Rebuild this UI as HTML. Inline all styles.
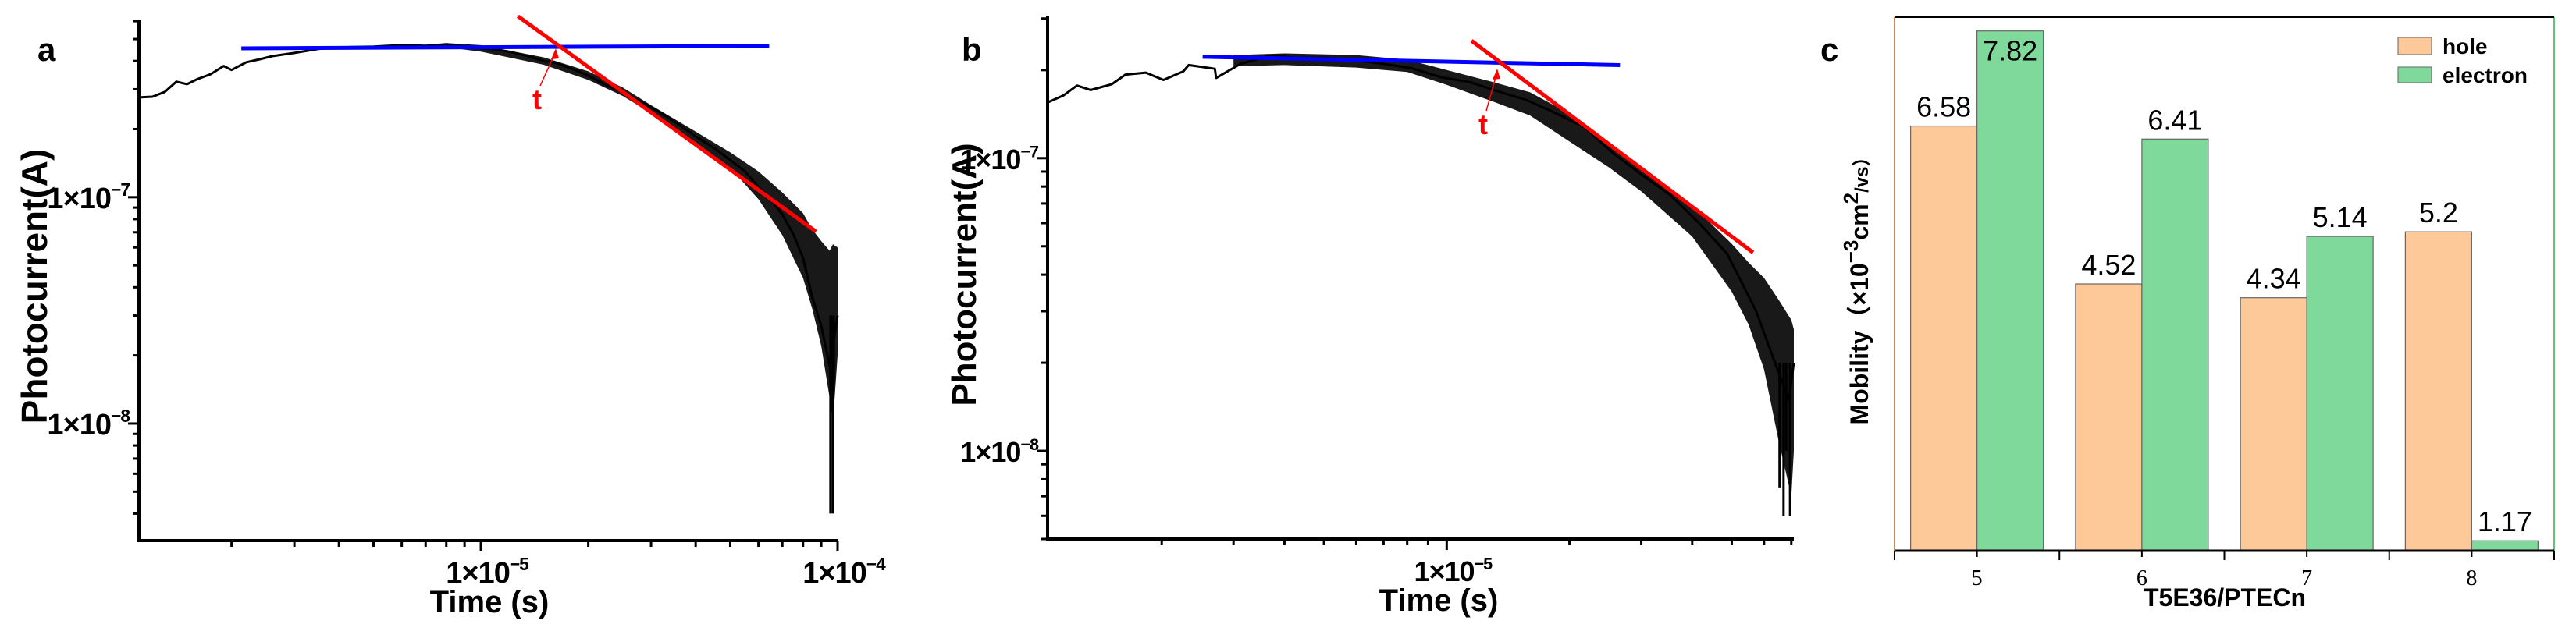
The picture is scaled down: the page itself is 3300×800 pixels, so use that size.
<!DOCTYPE html>
<html><head><meta charset="utf-8">
<style>
html,body{margin:0;padding:0;background:#fff;}
svg{display:block;font-family:"Liberation Sans",Arial,sans-serif;}
</style></head>
<body>
<svg id="fig" width="3300" height="800" viewBox="0 0 3300 800">
<g id="pa"></g>
<g id="pb"></g>
<g id="pc"></g>
</svg>
<script>
// ---------- Panel a data (time in µs, current in 1e-7 A) ----------
const aTime = [1.1,1.2,1.3,1.4,1.5,1.6,1.75,1.9,2.0,2.2,2.4,2.6,3.0,3.5,4,5,6,7,8,9,10,11,12,13,14,15,16,18,20,22,25,28,32,36,40,45,50,55,60,65,70,75,80,85,90,95,100];
const aCurrent = [2.76,2.78,2.92,3.24,3.16,3.32,3.5,3.8,3.65,3.95,4.07,4.2,4.34,4.52,4.6,4.63,4.7,4.67,4.74,4.63,4.55,4.5,4.4,4.27,4.14,4.0,3.95,3.7,3.45,3.18,2.92,2.65,2.36,2.09,1.86,1.65,1.46,1.3,1.11,0.98,0.84,0.69,0.54,0.36,0.27,0.18,0.3];
const aBandTime = [8,10,15,20,25,30,40,50,60,70,80,85,90,95,97,100];
const aBandHi = [4.8,4.7,4.15,3.6,3.05,2.55,1.95,1.58,1.3,1.05,0.85,0.72,0.64,0.58,0.62,0.6];
const aBandLo = [4.6,4.4,3.85,3.3,2.8,2.35,1.75,1.35,0.98,0.68,0.44,0.32,0.22,0.13,0.1,0.2];
const aSpikeTime = [95.5,96.2,97.0,97.6];
const aSpikeCurrent = [0.04,0.2,0.04,0.15];
const aBlue = {t:[2.13,64.3], i:[4.55,4.66]};
const aRed = {t:[12.7,87], i:[6.31,0.705]};
const aYTicks = ["1×10|−7","1×10|−8"];
const aXTicks = ["1×10|−5","1×10|−4"];

// ---------- Panel b data ----------
const bTime = [1.05,1.15,1.24,1.34,1.51,1.63,1.83,2.02,2.26,2.33,2.7,2.72,3.12,3.67,4.3,5.07,5.97,7.0,8.2,9.7,11.4,13.4,15.7,18.4,21.7,25.6,30,35.3,41.6,48.8,57.4,63,69,71];
const bCurrent = [1.55,1.64,1.77,1.71,1.79,1.93,1.96,1.85,1.98,2.08,2.02,1.88,2.1,2.24,2.2,2.2,2.16,2.1,2.03,1.89,1.82,1.69,1.58,1.43,1.28,1.04,0.88,0.75,0.6,0.47,0.3,0.21,0.15,0.2];
const bBandTime = [3,4,6,8,10,13,16,20,25,30,40,50,55,60,65,70,71];
const bBandHi = [2.25,2.28,2.25,2.17,2.0,1.82,1.68,1.42,1.13,0.94,0.69,0.51,0.44,0.39,0.33,0.28,0.26];
const bBandLo = [2.06,2.08,2.04,1.97,1.78,1.56,1.4,1.14,0.93,0.77,0.54,0.35,0.27,0.19,0.11,0.07,0.1];
const bSpikeTime = [65.5,67,68,69.5];
const bSpikeCurrent = [0.075,0.06,0.1,0.06];
const bBlue = {t:[2.52,26.6], i:[2.22,2.08]};
const bRed = {t:[11.5,56.4], i:[2.52,0.476]};
const bYTicks = ["1×10|−7","1×10|−8"];
const bXTicks = ["1×10|−5"];

// ---------- Panel c data ----------
const cCategories = ["5","6","7","8"];
const cHole = [6.58,4.52,4.34,5.2];
const cElectron = [7.82,6.41,5.14,1.17];
const cHoleLabels = ["6.58","4.52","4.34","5.2"];
const cElectronLabels = ["7.82","6.41","5.14","1.17"];

const NS="http://www.w3.org/2000/svg";
function mk(parent,tag,attrs,text){
  const e=document.createElementNS(NS,tag);
  for(const k in attrs) e.setAttribute(k,attrs[k]);
  if(text!==undefined) e.textContent=text;
  parent.appendChild(e); return e;
}
function sciLabel(g,x,y,str,size,anchor){
  const parts=str.split("|");
  const t=mk(g,"text",{x:x,y:y,"font-size":size,"font-weight":"bold","text-anchor":anchor,fill:"#000","letter-spacing":"-1"});
  mk(t,"tspan",{},parts[0]);
  mk(t,"tspan",{"font-size":size*0.6,dy:-size*0.42},parts[1]);
  return t;
}

function logPanel(g,cfg){
  const lx=v=>cfg.x0+(Math.log10(v)-Math.log10(cfg.tMin))/(Math.log10(cfg.tMax)-Math.log10(cfg.tMin))*(cfg.x1-cfg.x0);
  const ly=v=>cfg.yBot-(Math.log10(v)-Math.log10(cfg.iMin))/(Math.log10(cfg.iMax)-Math.log10(cfg.iMin))*(cfg.yBot-cfg.yTop);
  let pts=[];
  for(let k=0;k<cfg.bandT.length;k++) pts.push(lx(cfg.bandT[k]).toFixed(1)+","+ly(cfg.bandHi[k]).toFixed(1));
  for(let k=cfg.bandT.length-1;k>=0;k--) pts.push(lx(cfg.bandT[k]).toFixed(1)+","+ly(cfg.bandLo[k]).toFixed(1));
  const band=mk(g,"polygon",{points:pts.join(" "),fill:"#000","fill-opacity":"0.9"});
  
  
  let cp=cfg.time.map((t,k)=>lx(t).toFixed(1)+","+ly(cfg.cur[k]).toFixed(1)).join(" ");
  const curve=mk(g,"polyline",{points:cp,fill:"none",stroke:"#000","stroke-width":3,"stroke-linejoin":"round"});
  
  
  cfg.spT.forEach((t,k)=>{
    const s=mk(g,"line",{x1:lx(t),x2:lx(t),y1:ly(cfg.spHi),y2:ly(cfg.spI[k]),stroke:"#000","stroke-width":3});
    
    
  });
  const bl=mk(g,"line",{x1:lx(cfg.blue.t[0]),y1:ly(cfg.blue.i[0]),x2:lx(cfg.blue.t[1]),y2:ly(cfg.blue.i[1]),stroke:"#0000ff","stroke-width":5});
  
  
  const rl=mk(g,"line",{x1:lx(cfg.red.t[0]),y1:ly(cfg.red.i[0]),x2:lx(cfg.red.t[1]),y2:ly(cfg.red.i[1]),stroke:"#ff0000","stroke-width":5});
  
  
  const ax=cfg.tx, ay=cfg.ty, ix=cfg.ix, iy=cfg.iy;
  const arr=mk(g,"line",{x1:ax+4,y1:ay-30,x2:ix,y2:iy+6,stroke:"#ff0000","stroke-width":1.5});
  
  
  const ah=mk(g,"polygon",{points:`${ix},${iy+2} ${ix-6},${iy+16} ${ix+4},${iy+15}`,fill:"#ff0000"});
  
  
  const tl=mk(g,"text",{x:ax,y:ay,"font-size":36,"font-weight":"bold",fill:"#ff0000","text-anchor":"middle"},"t");
  
  
  const yax=mk(g,"line",{x1:cfg.x0,y1:cfg.yTop,x2:cfg.x0,y2:cfg.yBot+2,stroke:"#000","stroke-width":4});
  
  
  const xax=mk(g,"line",{x1:cfg.x0-2,y1:cfg.yBot,x2:cfg.x1,y2:cfg.yBot,stroke:"#000","stroke-width":4});
  
  
  for(let e=-3;e<=1;e++){
    for(let m=1;m<=9;m++){
      const v=m*Math.pow(10,e);
      if(v<cfg.iMin||v>cfg.iMax) continue;
      const y=ly(v), len=m===1?14:8;
      const tk=mk(g,"line",{x1:cfg.x0-len,x2:cfg.x0,y1:y,y2:y,stroke:"#000","stroke-width":3});
      
      
    }
  }
  cfg.yTickVals.forEach((v,k)=>{
    const t=sciLabel(g,cfg.x0-12,ly(v)+14,cfg.yTicks[k],cfg.tickSize,"end");
    
    
  });
  for(let e=0;e<=2;e++){
    for(let m=1;m<=9;m++){
      const v=m*Math.pow(10,e);
      if(v<cfg.tMin||v>cfg.tMax*1.001) continue;
      const x=lx(v), len=m===1?14:8;
      const tk=mk(g,"line",{x1:x,x2:x,y1:cfg.yBot,y2:cfg.yBot+len,stroke:"#000","stroke-width":3});
      
      
    }
  }
  cfg.xTickVals.forEach((v,k)=>{
    const t=sciLabel(g,lx(v)+8,cfg.yBot+54,cfg.xTicks[k],cfg.tickSize,"middle");
    
    
  });
  const xt=mk(g,"text",{x:cfg.xTitleX,y:cfg.yBot+92,"font-size":40,"font-weight":"bold","text-anchor":"middle"},"Time (s)");
  
  
  const yt=mk(g,"text",{x:0,y:0,"font-size":cfg.yTitleSize,"font-weight":"bold","text-anchor":"middle",transform:`translate(${cfg.yTitleX},${cfg.yTitleY}) rotate(-90)`},"Photocurrent(A)");
  
  
  const pl=mk(g,"text",{x:cfg.labX,y:cfg.labY,"font-size":42,"font-weight":"bold"},cfg.lab);
  
  
}

logPanel(document.getElementById("pa"),{
  x0:178,x1:1073,yTop:25,yBot:693,tMin:1.1,tMax:100,iMin:0.0304,iMax:6.1,
  time:aTime,cur:aCurrent,bandT:aBandTime,bandHi:aBandHi,bandLo:aBandLo,
  spT:aSpikeTime,spI:aSpikeCurrent,spHi:0.3,blue:aBlue,red:aRed,
  tx:688,ty:140,ix:712,iy:60,
  yTickVals:[1,0.1],yTicks:aYTicks,xTickVals:[10,100],xTicks:aXTicks,tickSize:38,
  xTitleX:627,yTitleX:60,yTitleY:367,yTitleSize:46,lab:"a",labX:48,labY:78
});
logPanel(document.getElementById("pb"),{
  x0:1342,x1:2298,yTop:20,yBot:691,tMin:1.05,tMax:71,iMin:0.05,iMax:3.07,
  time:bTime,cur:bCurrent,bandT:bBandTime,bandHi:bBandHi,bandLo:bBandLo,
  spT:bSpikeTime,spI:bSpikeCurrent,spHi:0.2,blue:bBlue,red:bRed,
  tx:1900,ty:172,ix:1918,iy:86,
  yTickVals:[1,0.1],yTicks:bYTicks,xTickVals:[10],xTicks:bXTicks,tickSize:36,
  xTitleX:1843,yTitleX:1250,yTitleY:352,yTitleSize:44,lab:"b",labX:1232,labY:78
});

// ---------- Panel c ----------
(function(){
  const g=document.getElementById("pc");
  const x0=2427,x1=3272,yTop=22,yBot=706,vMin=1.04,vMax=8.0;
  const cx=k=>x0+(x1-x0)*(k+0.5)/cCategories.length;
  const vy=v=>yBot-(v-vMin)/(vMax-vMin)*(yBot-yTop);
  const bw=85;
  const frameL=mk(g,"line",{x1:x0,y1:yTop,x2:x0,y2:yBot,stroke:"#d08a5a","stroke-width":2});
  
  
  const frameR=mk(g,"line",{x1:x1,y1:yTop,x2:x1,y2:yBot,stroke:"#5fc47d","stroke-width":2});
  
  
  const frameT=mk(g,"line",{x1:x0,y1:yTop,x2:x1,y2:yTop,stroke:"#000","stroke-width":2});
  
  
  cCategories.forEach((c,k)=>{
    const c0=cx(k);
    const hb=mk(g,"rect",{x:c0-bw,y:vy(cHole[k]),width:bw,height:yBot-vy(cHole[k]),fill:"#fdc998",stroke:"#666","stroke-width":1.2});
    
    
    const eb=mk(g,"rect",{x:c0,y:vy(cElectron[k]),width:bw,height:yBot-vy(cElectron[k]),fill:"#7fd99a",stroke:"#666","stroke-width":1.2});
    
    
    const hl=mk(g,"text",{x:c0-bw/2,y:vy(cHole[k])-12,"font-size":36,"text-anchor":"middle"},cHoleLabels[k]);
    
    
    const elY = vy(cElectron[k])<60 ? vy(cElectron[k])+38 : vy(cElectron[k])-12;
    const el=mk(g,"text",{x:c0+bw/2,y:elY,"font-size":36,"text-anchor":"middle"},cElectronLabels[k]);
    
    
    const tk=mk(g,"line",{x1:c0,x2:c0,y1:yBot,y2:yBot+8,stroke:"#000","stroke-width":2});
    
    
    const tl=mk(g,"text",{x:c0,y:yBot+44,"font-size":28,"text-anchor":"middle","font-family":"Liberation Serif, serif"},c);
    
    
  });
  for(let k=0;k<=cCategories.length;k++){
    const x=x0+(x1-x0)*k/cCategories.length;
    const tk=mk(g,"line",{x1:x,x2:x,y1:yBot,y2:yBot+12,stroke:"#000","stroke-width":2});
    
    
  }
  const xa=mk(g,"line",{x1:x0,y1:yBot,x2:x1,y2:yBot,stroke:"#000","stroke-width":3});
  
  
  const xt=mk(g,"text",{x:2850,y:777,"font-size":32,"font-weight":"bold","text-anchor":"middle"},"T5E36/PTECn");
  
  
  const yt=mk(g,"text",{x:0,y:0,"font-size":32,"font-weight":"bold","text-anchor":"middle",transform:"translate(2393,367) rotate(-90)","font-family":"Liberation Sans, Noto Sans CJK SC, sans-serif"});
  
  
  mk(yt,"tspan",{},"Mobility（×10");
  mk(yt,"tspan",{"font-size":26,dy:-13},"−3");
  mk(yt,"tspan",{dy:13},"cm");
  mk(yt,"tspan",{"font-size":26,dy:-13},"2");
  mk(yt,"tspan",{dy:13,"font-size":24},"/vs）");
  const lab=mk(g,"text",{x:2332,y:78,"font-size":42,"font-weight":"bold"},"c");
  
  
  const lg=mk(g,"g",{});
  
  
  const h1=mk(lg,"rect",{x:3072,y:48,width:43,height:22,fill:"#fdc998",stroke:"#666","stroke-width":1});
  
  
  const h2=mk(lg,"text",{x:3129,y:69,"font-size":28,"font-weight":"bold"},"hole");
  
  
  const e1=mk(lg,"rect",{x:3072,y:86,width:43,height:20,fill:"#7fd99a",stroke:"#666","stroke-width":1});
  
  
  const e2=mk(lg,"text",{x:3129,y:106,"font-size":28,"font-weight":"bold"},"electron");
  
  
})();
</script>
</body></html>
